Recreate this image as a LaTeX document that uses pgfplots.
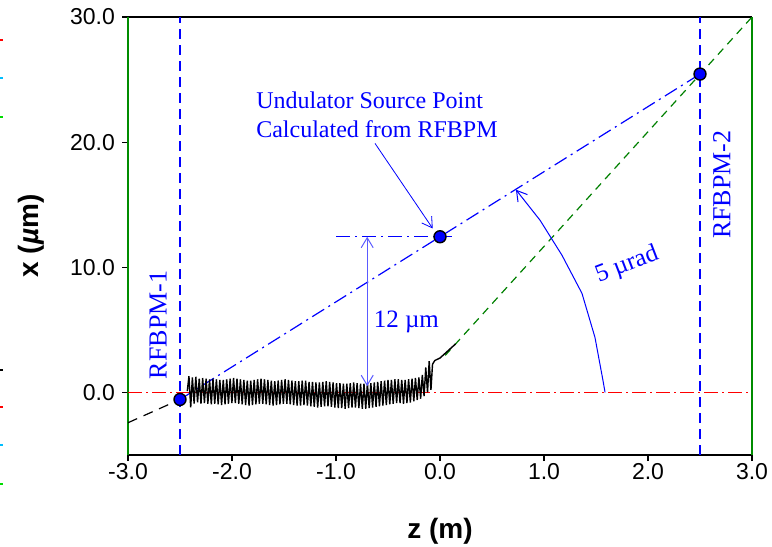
\documentclass[border=0pt]{standalone}
\usepackage{fontspec}
\setmainfont{Liberation Sans}
\newfontfamily\timesf{Liberation Serif}
\usepackage{pgfplots}
\pgfplotsset{compat=1.18}
\usetikzlibrary{arrows.meta,calc}
\definecolor{myblue}{RGB}{0,0,255}
\definecolor{lblue}{RGB}{90,90,255}
\definecolor{mygreen}{RGB}{0,140,0}
\definecolor{dgreen}{RGB}{0,128,0}
\definecolor{myred}{RGB}{255,0,0}
\definecolor{mycyan}{RGB}{0,190,255}
\definecolor{lgreen}{RGB}{0,220,0}

\pgfplotstableread{
x y
-2.430 0.10
-2.414 1.30
-2.397 -1.20
-2.381 1.20
-2.364 -0.90
-2.348 1.25
-2.331 -0.80
-2.315 1.10
-2.298 -0.90
-2.282 1.15
-2.265 -0.85
-2.249 1.10
-2.232 -0.90
-2.216 1.05
-2.199 -0.95
-2.183 1.10
-2.166 -0.90
-2.150 1.05
-2.133 -0.95
-2.117 1.00
-2.100 -1.00
-2.084 1.00
-2.067 -0.95
-2.051 1.05
-2.034 -0.90
-2.018 1.10
-2.001 -0.85
-1.985 1.15
-1.968 -0.85
-1.952 1.10
-1.935 -0.90
-1.919 1.05
-1.902 -0.95
-1.886 1.00
-1.869 -1.00
-1.853 0.95
-1.836 -1.05
-1.820 0.95
-1.803 -1.00
-1.787 1.00
-1.770 -0.95
-1.754 1.05
-1.737 -0.90
-1.721 1.10
-1.704 -0.90
-1.688 1.05
-1.671 -0.95
-1.655 1.00
-1.638 -1.00
-1.622 0.95
-1.605 -1.05
-1.589 0.90
-1.572 -1.00
-1.556 0.95
-1.539 -0.95
-1.523 1.00
-1.506 -0.90
-1.490 1.05
-1.473 -0.90
-1.457 1.00
-1.440 -0.95
-1.424 0.95
-1.407 -1.00
-1.391 0.90
-1.374 -1.05
-1.358 0.90
-1.341 -1.05
-1.325 0.95
-1.308 -1.00
-1.292 0.95
-1.275 -1.05
-1.259 0.85
-1.242 -1.10
-1.226 0.85
-1.209 -1.15
-1.193 0.80
-1.176 -1.20
-1.160 0.80
-1.143 -1.15
-1.127 0.85
-1.110 -1.10
-1.094 0.90
-1.077 -1.10
-1.061 0.85
-1.044 -1.15
-1.028 0.80
-1.011 -1.20
-0.995 0.75
-0.978 -1.25
-0.962 0.75
-0.945 -1.25
-0.929 0.70
-0.912 -1.30
-0.896 0.70
-0.879 -1.25
-0.863 0.75
-0.846 -1.20
-0.830 0.80
-0.813 -1.20
-0.797 0.75
-0.780 -1.25
-0.764 0.70
-0.747 -1.30
-0.731 0.70
-0.714 -1.30
-0.698 0.75
-0.681 -1.25
-0.665 0.75
-0.648 -1.20
-0.632 0.80
-0.615 -1.15
-0.599 0.85
-0.582 -1.10
-0.566 0.90
-0.549 -1.05
-0.533 0.95
-0.516 -1.00
-0.500 1.00
-0.483 -0.95
-0.467 1.00
-0.450 -0.90
-0.434 1.05
-0.417 -0.85
-0.401 1.05
-0.384 -0.85
-0.368 1.00
-0.351 -0.90
-0.335 1.00
-0.318 -0.85
-0.302 1.05
-0.285 -0.80
-0.269 1.10
-0.252 -0.70
-0.236 1.15
-0.219 -0.60
-0.203 1.20
-0.186 -0.50
-0.170 1.40
-0.153 -0.30
-0.137 2.00
-0.120 0.00
-0.104 2.50
-0.087 0.20
-0.072 2.25
-0.050 2.55
0.000 2.75
0.150 3.88
}\traj

\begin{document}
\begin{tikzpicture}
\begin{axis}[
 scale only axis, width=312pt, height=219pt,
 xmin=-3, xmax=3, ymin=-5, ymax=30,
 xtick={-3,-2,-1,0,1,2,3}, ytick={0,10,20,30},
 tick align=outside, xtick pos=lower, ytick pos=left,
 major tick length=3pt,
 tick style={black, line width=0.6pt},
 separate axis lines,
 x axis line style={black, line width=0.8pt},
 y axis line style={mygreen, line width=0.9pt},
 /pgf/number format/fixed,
 /pgf/number format/fixed zerofill,
 /pgf/number format/precision=1,
 /pgf/number format/assume math mode=true,
 ticklabel style={font=\fontsize{11.5}{13}\selectfont},
 xticklabel style={yshift=2.2pt},
 xlabel={\textbf{z (m)}}, ylabel={\textbf{x (\textit{µ}m)}},
 label style={font=\fontsize{14}{16}\selectfont},
 xlabel style={at={(axis description cs:0.5,-0.174)}, anchor=center},
 ylabel style={at={(axis description cs:-0.155,0.5)}, anchor=center},
]
% vertical RFBPM lines
\addplot[myblue, line width=0.8pt, dash pattern=on 5pt off 3pt] coordinates {(-2.5,-5) (-2.5,30)};
\addplot[myblue, line width=0.8pt, dash pattern=on 5pt off 3pt] coordinates {(2.5,-5) (2.5,30)};
% zero line
\addplot[myred, line width=0.6pt, dash pattern=on 7pt off 2pt on 1pt off 2pt] coordinates {(-3,0) (3,0)};
% black extrapolation
\addplot[black, line width=0.6pt, dash pattern=on 5pt off 3.5pt] coordinates {(-3,-2.42) (-2.5,-0.56)};
% green exit line
\addplot[dgreen, line width=0.6pt, dash pattern=on 4pt off 3pt] coordinates {(0.05,2.96) (3,30)};
% blue fit line
\addplot[myblue, line width=0.6pt, dash pattern=on 7pt off 2.5pt on 1pt off 2.5pt] coordinates {(-2.5,-0.56) (2.5,25.44)};
\addplot[myblue, line width=0.6pt, dash pattern=on 7pt off 2.5pt on 1pt off 2.5pt] coordinates {(-1.0,12.44) (0.12,12.44)};
% trajectory
\addplot[black, line width=0.7pt] table[x=x,y=y] {\traj};
% points
\addplot[only marks, mark=*, mark size=3pt, mark options={fill=myblue, draw=black, line width=0.7pt}] coordinates {(-2.5,-0.56) (0,12.44) (2.5,25.44)};
% annotations
\draw[myblue, line width=0.4pt, -{Straight Barb[length=5pt,width=6pt]}] (axis cs:-0.625,19.9) -- (axis cs:-0.07,13.1);
\draw[lblue, line width=0.5pt, {Straight Barb[length=5pt,width=6pt]}-{Straight Barb[length=5pt,width=6pt]}] (axis cs:-0.70,12.44) -- (axis cs:-0.70,0.5);
\draw[myblue, line width=0.5pt, -{Straight Barb[length=5pt,width=6pt]}] (axis cs:1.587,0.0) -- (axis cs:1.567,0.96) -- (axis cs:1.49,4.4) -- (axis cs:1.365,7.92) -- (axis cs:1.173,10.96) -- (axis cs:0.962,13.76) -- (axis cs:0.73,16.2);
\node[myblue, font=\timesf\fontsize{12}{14.5}\selectfont, align=left, anchor=west, inner sep=0pt] at (axis cs:-1.77,22.2) {Undulator Source Point\\Calculated from RFBPM};
\node[myblue, font=\timesf\fontsize{12.5}{14}\selectfont, anchor=west, inner sep=0pt] at (axis cs:-0.64,5.6) {12 µm};
\node[myblue, font=\timesf\fontsize{12.5}{14}\selectfont, rotate=21, inner sep=0pt] at (axis cs:1.80,10.2) {5 µrad};
\node[myblue, font=\timesf\fontsize{13}{14}\selectfont, rotate=90, inner sep=0pt] at (axis cs:-2.71,5.4) {RFBPM-1};
\node[myblue, font=\timesf\fontsize{13}{14}\selectfont, rotate=90, inner sep=0pt] at (axis cs:2.71,16.6) {RFBPM-2};
\end{axis}
% stray marks at left edge
\foreach \dy/\c in {11.5/myred,30.5/mycyan,50/lgreen,176.5/black,195/myred,214/mycyan,233.5/lgreen}{
  \draw[\c, line width=0.7pt] ($(current axis.north west)+(-64pt,-\dy pt)$) -- ++(1.5pt,0);
}
\pgfresetboundingbox
\useasboundingbox ($(current axis.south west)+(-64pt,-45.5pt)$) rectangle ($(current axis.north east)+(10pt,8.5pt)$);
\end{tikzpicture}
\end{document}
